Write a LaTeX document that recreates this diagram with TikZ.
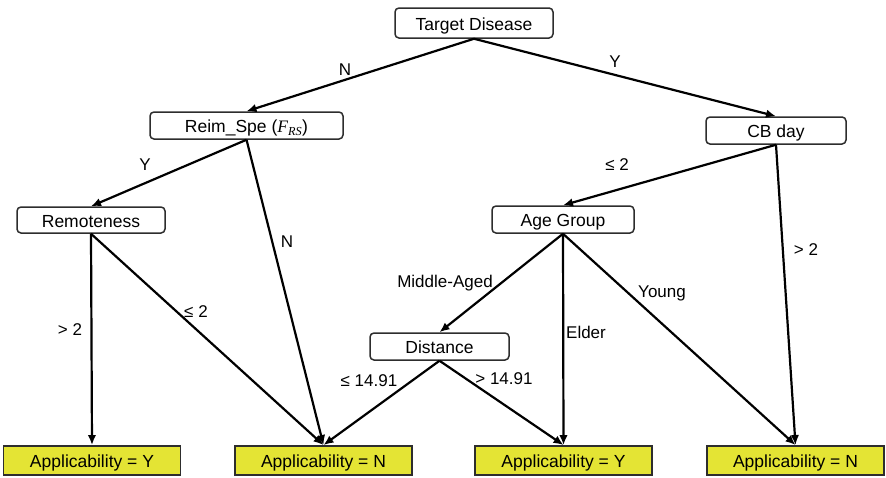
\documentclass[tikz,border=0pt]{standalone}
\usepackage{fontspec}
\setmainfont{Liberation Sans}
\newfontfamily\tnr{Liberation Serif}
\usetikzlibrary{arrows.meta}
\definecolor{leafyellow}{RGB}{228,228,52}
\definecolor{boxline}{RGB}{45,45,45}
\tikzset{
  test/.style={draw=boxline, line width=1.5pt, rounded corners=4pt, fill=white,
    minimum height=27pt, inner sep=0pt, text height=14.5pt, text depth=0pt,
    font=\fontsize{17.5}{20}\selectfont},
  leaf/.style={draw=boxline, line width=1.9pt, fill=leafyellow,
    minimum width=177pt, minimum height=29pt, inner sep=0pt,
    text height=14pt, text depth=0pt,
    font=\fontsize{17.5}{20}\selectfont},
  branch/.style={line width=2.2pt, -{Latex[length=10pt,width=8.5pt]}},
  lbl/.style={font=\fontsize{17}{20}\selectfont, inner sep=1pt}
}
\begin{document}
\begin{tikzpicture}[x=1pt,y=-1pt]
\useasboundingbox (0,0) rectangle (886,477);

% decision nodes
\node[test, minimum width=158pt, minimum height=30pt] (target) at (474,23) {Target Disease};
\node[test, minimum width=193pt] (reim) at (246.5,125.5) {Reim\_Spe ({\tnr\itshape F\textsubscript{RS}})};
\node[test, minimum width=140pt] (cb) at (776,130.5) {CB day};
\node[test, minimum width=148pt, minimum height=26pt] (remote) at (91,220) {Remoteness};
\node[test, minimum width=142pt] (age) at (563,219.5) {Age Group};
\node[test, minimum width=139pt] (dist) at (439.5,346.5) {Distance};

% outcome leaves
\node[leaf] (y1) at (92,460.5) {Applicability = Y};
\node[leaf] (n2) at (323.5,460.5) {Applicability = N};
\node[leaf] (y3) at (563.5,460.5) {Applicability = Y};
\node[leaf] (n4) at (795.5,460.5) {Applicability = N};

% branches
\draw[branch] (target.south) -- (reim.north);
\draw[branch] (target.south) -- (cb.north);
\draw[branch] (reim.south) -- (remote.north);
\draw[branch] (reim.south) -- (n2.north);
\draw[branch] (cb.south) -- (age.north);
\draw[branch] (cb.south) -- (n4.north);
\draw[branch] (remote.south) -- (y1.north);
\draw[branch] (remote.south) -- (n2.north);
\draw[branch] (age.south) -- (dist.north);
\draw[branch] (age.south) -- (y3.north);
\draw[branch] (age.south) -- (n4.north);
\draw[branch] (dist.south) -- (n2.north);
\draw[branch] (dist.south) -- (y3.north);

% branch labels
\node[lbl] (lN1) at (345,70) {N};
\node[lbl] (lY1) at (615,62) {Y};
\node[lbl] (lY2) at (145,165) {Y};
\node[lbl] (lN2) at (287,242) {N};
\node[lbl] (lle1) at (617,165) {≤ 2};
\node[lbl] (lgt1) at (806,250) {> 2};
\node[lbl] (lgt2) at (70,330) {> 2};
\node[lbl] (lle2) at (196,312) {≤ 2};
\node[lbl] (lmid) at (445,283) {Middle-Aged};
\node[lbl] (leld) at (586,332) {Elder};
\node[lbl] (lyng) at (662,293) {Young};
\node[lbl] (lle3) at (369,381) {≤ 14.91};
\node[lbl] (lgt3) at (504,379) {> 14.91};
\end{tikzpicture}
\end{document}
